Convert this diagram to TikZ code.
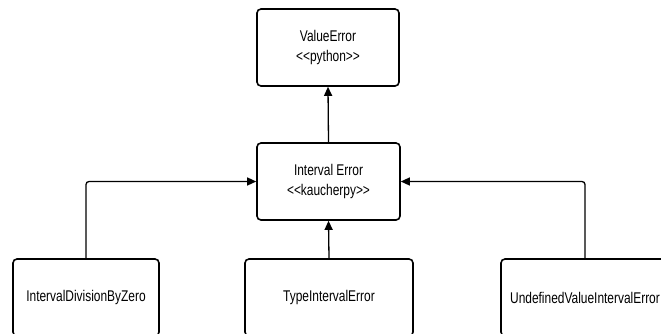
\documentclass[tikz,border=0pt]{standalone}
\usepackage{fontspec}
\setmainfont{Liberation Sans}[FakeStretch=0.77]
\usetikzlibrary{arrows.meta}

\tikzset{
  errbox/.style={draw, line width=1.6pt, rounded corners=4pt, align=center,
    minimum height=77pt, inner sep=0pt, font=\fontsize{15.5}{20}\selectfont},
  inherit/.style={line width=1.3pt, -{Triangle[length=9pt,width=8pt]}}
}

\begin{document}
\begin{tikzpicture}[x=1pt,y=1pt]

\clip (0,0) rectangle (661,-333);

\node[errbox, minimum width=142pt] (valueerr) at (328,-47.5) {ValueError\\<{}<python>{}>};
\node[errbox, minimum width=143pt] (intervalerr) at (328.5,-181.5) {Interval Error\\<{}<kaucherpy>{}>};

\node[errbox, minimum width=146pt] (divzero) at (86,-297.5) {IntervalDivisionByZero};
\node[errbox, minimum width=168pt] (typeerr) at (329,-297.5) {TypeIntervalError};
\node[errbox, minimum width=168pt] (undefval) at (585,-297.5) {UndefinedValueIntervalError};

\draw[inherit] (intervalerr.north) -- (valueerr.south);
\draw[inherit] (typeerr.north) -- (intervalerr.south);
\draw[inherit, rounded corners=3pt] (divzero.north) |- (intervalerr.west);
\draw[inherit, rounded corners=3pt] (undefval.north) |- (intervalerr.east);

\end{tikzpicture}
\end{document}
